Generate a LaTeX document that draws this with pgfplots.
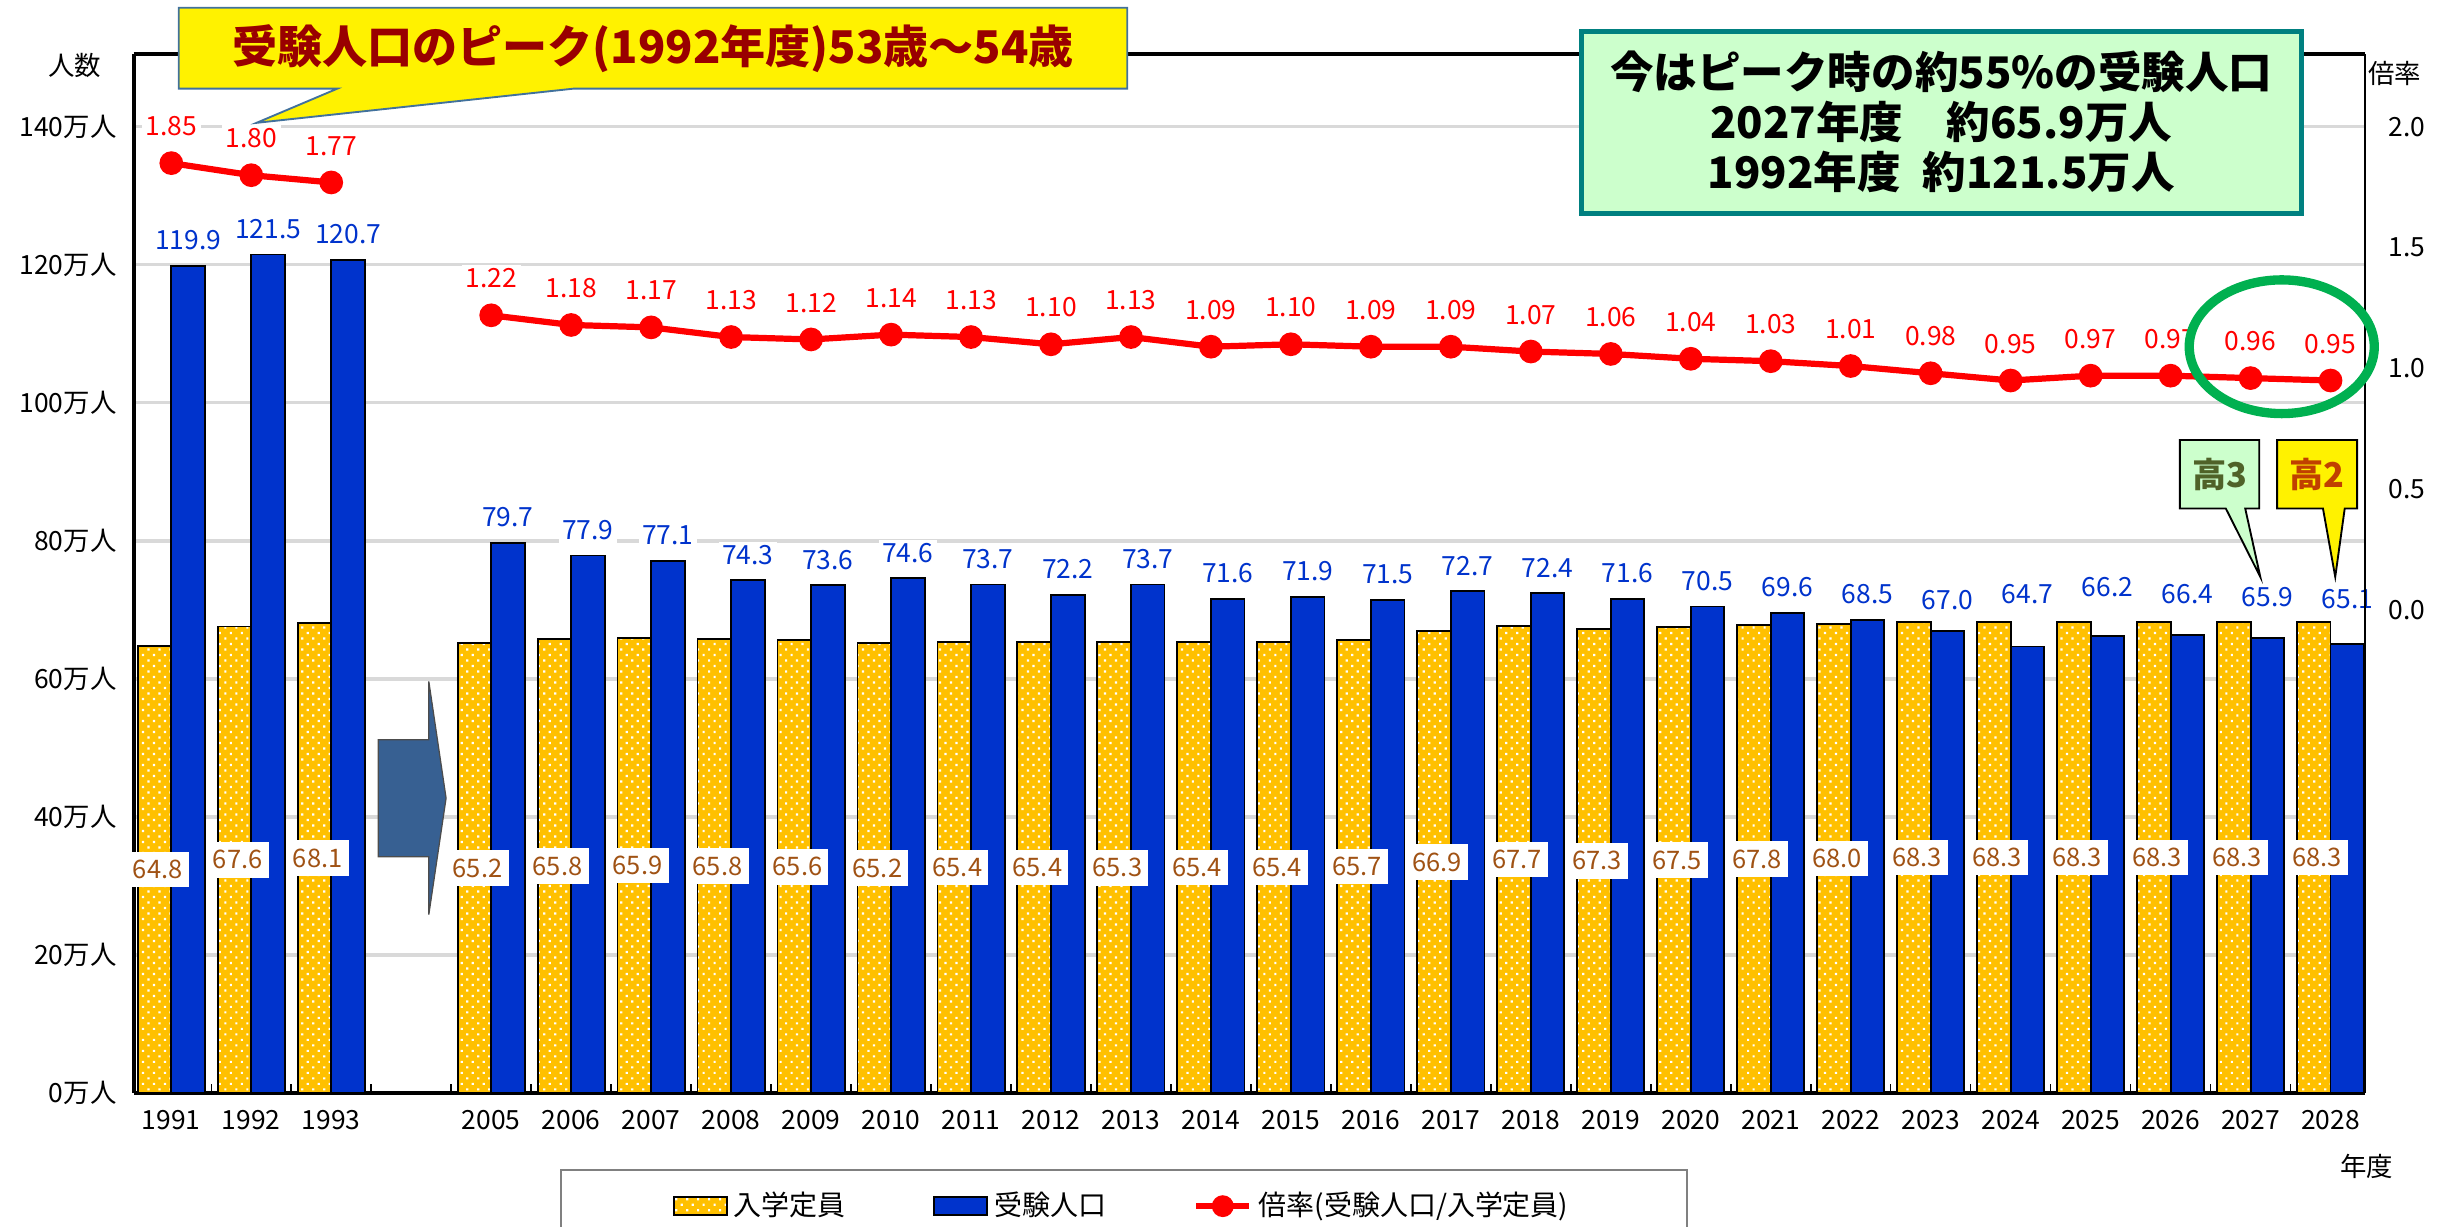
\documentclass[border=0pt]{standalone}
\usepackage{pgfplots}
\pgfplotsset{compat=1.18}
\usepackage{pgfplotstable}
\usepackage{fontspec}
\setmainfont{Noto Sans CJK JP}
\usetikzlibrary{patterns.meta}
\pgfplotsset{/pgf/number format/assume math mode=true}

\definecolor{cOrange}{RGB}{255,192,0}
\definecolor{cBlue}{RGB}{0,51,204}
\definecolor{cRed}{RGB}{255,0,0}
\definecolor{cBrown}{RGB}{160,82,20}
\definecolor{cGrid}{RGB}{217,217,217}
\definecolor{cMaroon}{RGB}{153,0,0}
\definecolor{cTeal}{RGB}{0,128,128}
\definecolor{cMint}{RGB}{204,255,204}
\definecolor{cEll}{RGB}{0,176,80}
\definecolor{cArrow}{RGB}{55,96,146}
\definecolor{cOlive}{RGB}{79,98,40}
\definecolor{cK2}{RGB}{192,64,0}
\definecolor{cCallBorder}{RGB}{65,113,156}

\newcommand\tickfont{\fontsize{8.5}{10}\selectfont}
\newcommand\labfont{\fontsize{8.5}{10}\selectfont}
\newcommand\caplabfont{\fontsize{8.2}{10}\selectfont}

% x: position, cap: 入学定員, pop: 受験人口, ratio: 倍率, ly: label height for 受験人口
\pgfplotstableread{
x cap pop ratio ly
0 64.8 119.9 1.85 123.6
1 67.6 121.5 1.80 125.2
2 68.1 120.7 1.77 124.4
4 65.2 79.7 1.22 83.4
5 65.8 77.9 1.18 81.6
6 65.9 77.1 1.17 80.8
7 65.8 74.3 1.13 78.0
8 65.6 73.6 1.12 77.3
9 65.2 74.6 1.14 78.3
10 65.4 73.7 1.13 77.4
11 65.4 72.2 1.10 75.9
12 65.3 73.7 1.13 77.4
13 65.4 71.6 1.09 75.3
14 65.4 71.9 1.10 75.6
15 65.7 71.5 1.09 75.2
16 66.9 72.7 1.09 76.4
17 67.7 72.4 1.07 76.1
18 67.3 71.6 1.06 75.3
19 67.5 70.5 1.04 74.2
20 67.8 69.6 1.03 73.3
21 68.0 68.5 1.01 72.3
22 68.3 67.0 0.98 71.4
23 68.3 64.7 0.95 72.3
24 68.3 66.2 0.97 73.3
25 68.3 66.4 0.97 72.3
26 68.3 65.9 0.96 71.9
27 68.3 65.1 0.95 71.6
}\data

\begin{document}
\begin{tikzpicture}
\begin{axis}[
  at={(0pt,0pt)}, anchor=south west,
  scale only axis, width=717.5pt, height=334pt,
  xmin=-0.47, xmax=27.43, ymin=0, ymax=150.5,
  axis x line*=box, axis y line*=left,
  axis line style={line width=1.3pt},
  xtick={0,1,2,4,5,6,7,8,9,10,11,12,13,14,15,16,17,18,19,20,21,22,23,24,25,26,27},
  xticklabels={1991,1992,1993,2005,2006,2007,2008,2009,2010,2011,2012,2013,2014,2015,2016,2017,2018,2019,2020,2021,2022,2023,2024,2025,2026,2027,2028},
  minor xtick={0.5,1.5,...,26.5},
  xtick pos=left,
  major tick length=0pt, minor tick length=3pt,
  minor tick style={line width=0.5pt, black},
  ytick={0,20,40,60,80,100,120,140},
  yticklabels={0万人,20万人,40万人,60万人,80万人,100万人,120万人,140万人},
  ymajorgrids, major grid style={cGrid, line width=1pt},
  tick label style={font=\tickfont},
  xticklabel style={yshift=-2pt},
  yticklabel style={xshift=-2pt},
  legend style={at={(0.191,-0.0734)}, anchor=north west, legend columns=3,
    draw=gray, line width=0.6pt, font=\fontsize{9}{10}\selectfont,
    inner xsep=36pt, inner ysep=5pt,
    /tikz/every even column/.append style={column sep=26pt}},
  legend cell align=left,
]
\addplot[ybar, bar width=0.42, bar shift=-0.21, fill=cOrange, draw=black, line width=0.6pt,
  postaction={pattern={Dots[distance=2.5pt, angle=45, radius=0.5pt]}, pattern color=white},
  area legend] table[x=x, y=cap] {\data};
\addlegendentry{入学定員}
\addplot[ybar, bar width=0.42, bar shift=0.21, fill=cBlue, draw=black, line width=0.6pt,
  area legend] table[x=x, y=pop] {\data};
\addlegendentry{受験人口}
% labels of 受験人口
\addplot[draw=none, mark=none, forget plot, point meta=explicit,
  nodes near coords={\pgfmathprintnumber[fixed,fixed zerofill,precision=1]{\pgfplotspointmeta}},
  every node near coord/.append style={anchor=center, fill=white, text=cBlue, font=\labfont, inner xsep=1pt, inner ysep=1pt}
  ] table[x expr=\thisrow{x}+0.21, y=ly, meta=pop] {\data};
% labels of 入学定員
\addplot[draw=none, mark=none, forget plot, point meta=explicit,
  nodes near coords={\pgfmathprintnumber[fixed,fixed zerofill,precision=1]{\pgfplotspointmeta}},
  every node near coord/.append style={anchor=center, fill=white, text=cBrown, font=\caplabfont, inner xsep=2pt, inner ysep=2.7pt}
  ] table[x expr=\thisrow{x}-0.17, y expr=\thisrow{cap}/2, meta=cap] {\data};
\addlegendimage{cRed, line width=2pt, mark=*, mark size=2.5pt}
\addlegendentry{倍率(受験人口/入学定員)}
\end{axis}

\begin{axis}[
  at={(0pt,0pt)}, anchor=south west,
  scale only axis, width=717.5pt, height=334pt,
  xmin=-0.47, xmax=27.43, ymin=-2, ymax=2.3,
  axis y line*=right, axis x line=none,
  axis line style={line width=0.8pt},
  xtick=\empty,
  ytick={0,0.5,1,1.5,2},
  yticklabels={0.0,0.5,1.0,1.5,2.0},
  major tick length=0pt,
  tick label style={font=\tickfont},
  yticklabel style={xshift=4pt},
]
\addplot[cRed, line width=2pt, mark=*, mark size=2.8pt, restrict x to domain=0:2,
  nodes near coords={\pgfmathprintnumber[fixed,fixed zerofill,precision=2]{\pgfplotspointmeta}},
  every node near coord/.append style={text=cRed, fill=white, inner sep=1.2pt, font=\labfont, yshift=6.5pt}
  ] table[x=x, y=ratio] {\data};
\addplot[cRed, line width=2pt, mark=*, mark size=2.8pt, restrict x to domain=4:27,
  nodes near coords={\pgfmathprintnumber[fixed,fixed zerofill,precision=2]{\pgfplotspointmeta}},
  every node near coord/.append style={text=cRed, fill=white, inner sep=1.2pt, font=\labfont, yshift=6.5pt}
  ] table[x=x, y=ratio] {\data};
\end{axis}

% arrow in the gap
\draw[fill=cArrow, draw=black!70, line width=0.4pt]
  (78.65pt,113.65pt)--(94.9pt,113.65pt)--(94.9pt,132.35pt)--(100.45pt,94.85pt)
  --(94.9pt,57.4pt)--(94.9pt,76pt)--(78.65pt,76pt)--cycle;

% yellow callout
\draw[fill=yellow, draw=cCallBorder, line width=0.6pt]
  (14.5pt,323pt)--(65.5pt,323pt)--(39.5pt,312pt)--(141.5pt,323pt)--(319.5pt,323pt)
  --(319.5pt,349pt)--(14.5pt,349pt)--cycle;
\node[text=cMaroon, font=\fontsize{14.5}{17}\selectfont\bfseries] at (167pt,336pt)
  {受験人口のピーク(1992年度)53歳～54歳};

% green box
\node[draw=cTeal, line width=1.6pt, fill=cMint, minimum width=231.5pt, minimum height=58.5pt,
  align=center, font=\fontsize{14}{16}\selectfont\bfseries] at (581.25pt,312.25pt)
  {今はピーク時の約55\%の受験人口\\2027年度\quad 約65.9万人\\1992年度\enspace 約121.5万人};

% ellipse
\draw[cEll, line width=3pt] (690.75pt,240pt) ellipse [x radius=29.75pt, y radius=21.5pt];

% 高3 / 高2 callouts
\draw[fill=cMint, draw=black, line width=0.6pt]
  (658pt,188pt)--(672.75pt,188pt)--(683.85pt,166pt)--(679pt,188pt)--(683.5pt,188pt)
  --(683.5pt,210pt)--(658pt,210pt)--cycle;
\node[text=cOlive, font=\fontsize{11}{12}\selectfont\bfseries] at (670.75pt,199pt) {高3};
\draw[fill=yellow, draw=black, line width=0.6pt]
  (689.25pt,188pt)--(704pt,188pt)--(707.95pt,166pt)--(711pt,188pt)--(715pt,188pt)
  --(715pt,210pt)--(689.25pt,210pt)--cycle;
\node[text=cK2, font=\fontsize{11}{12}\selectfont\bfseries] at (702.1pt,199pt) {高2};

% axis titles
\node[font=\tickfont] at (-19pt,330.5pt) {人数};
\node[font=\tickfont] at (727pt,328pt) {倍率};
\node[font=\tickfont] at (718pt,-23.5pt) {年度};

\pgfresetboundingbox
\path (-43pt,-43pt) rectangle (741pt,351.5pt);
\end{tikzpicture}
\end{document}
